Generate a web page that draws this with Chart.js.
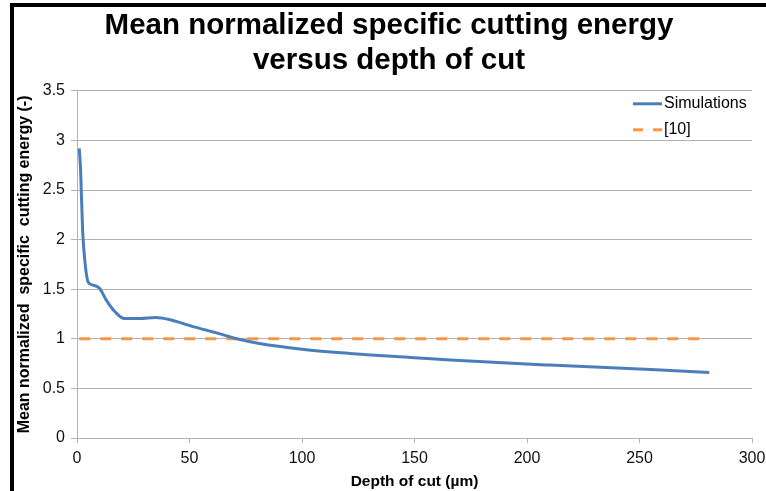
<!DOCTYPE html>
<html>
<head>
<meta charset="utf-8">
<script src="https://cdn.jsdelivr.net/npm/chart.js@4.4.0/dist/chart.umd.min.js"></script>
<style>
  html, body { margin: 0; padding: 0; background: #fff; }
  #wrap { position: relative; width: 766px; height: 491px; }
  #frame { position: absolute; left: 10px; top: 3px; right: 0; bottom: -10px;
           border-left: 4px solid #000; border-top: 4px solid #000; pointer-events: none; }
</style>
</head>
<body>
<div id="wrap">
  <canvas id="myChart" width="766" height="491"></canvas>
  <div id="frame"></div>
</div>
<script>
// depth of cut (µm) and mean normalized specific cutting energy
var simDepth  = [1, 1.6, 2.5, 3.6, 5, 7.3, 10, 13, 17, 21, 28, 35, 41, 52, 62, 71, 81, 100, 121, 150, 166, 210, 255, 281];
var simEnergy = [2.92, 2.70, 2.09, 1.76, 1.57, 1.54, 1.51, 1.39, 1.27, 1.205, 1.205, 1.215, 1.195, 1.12, 1.06, 1.0, 0.953, 0.895, 0.853, 0.81, 0.786, 0.735, 0.69, 0.66];

var refDepth  = [1, 278];
var refEnergy = [1, 1];

var xTicks = [0, 50, 100, 150, 200, 250, 300];

var FONT = 'Liberation Sans, Arial, sans-serif';
var BLUE = '#4a7ebb';
var ORANGE = '#f79646';

function pts(xs, ys) {
    return xs.map(function (x, i) { return {x: x, y: ys[i]}; });
}

// legend drawn inside the plot, top right, like the Excel original
var insideLegend = {
    id: 'insideLegend',
    afterDraw: function (chart) {
        var c = chart.ctx;
        var a = chart.chartArea;
        var x0 = a.right - 119, y0 = a.top + 13;
        c.save();
        c.lineWidth = 3;
        c.strokeStyle = BLUE;
        c.beginPath(); c.moveTo(x0, y0); c.lineTo(x0 + 29, y0); c.stroke();
        c.strokeStyle = ORANGE;
        c.setLineDash([10, 10]);
        c.beginPath(); c.moveTo(x0, y0 + 26); c.lineTo(x0 + 29, y0 + 26); c.stroke();
        c.setLineDash([]);
        c.fillStyle = '#000';
        c.font = '16px ' + FONT;
        c.textBaseline = 'middle';
        c.fillText('Simulations', x0 + 31, y0);
        c.fillText('[10]', x0 + 31, y0 + 26);
        c.restore();
    }
};

var ctx = document.getElementById('myChart').getContext('2d');
var chart = new Chart(ctx, {
    type: 'line',
    data: {
        datasets: [{
            label: 'Simulations',
            data: pts(simDepth, simEnergy),
            borderColor: BLUE,
            borderWidth: 3,
            pointRadius: 0,
            cubicInterpolationMode: 'monotone',
            fill: false
        }, {
            label: '[10]',
            data: pts(refDepth, refEnergy),
            borderColor: ORANGE,
            borderWidth: 3,
            borderDash: [11, 10],
            pointRadius: 0,
            fill: false
        }]
    },
    options: {
        responsive: false,
        animation: false,
        layout: { padding: { left: 12, right: 0, top: 0, bottom: 0 } },
        plugins: {
            legend: { display: false },
            tooltip: { enabled: false },
            title: {
                display: true,
                text: ['Mean normalized specific cutting energy', 'versus depth of cut'],
                color: '#000',
                font: { family: FONT, size: 29.5, weight: 'bold', lineHeight: 1.2 },
                padding: { top: 8, bottom: 12 }
            }
        },
        scales: {
            x: {
                type: 'linear',
                min: 0, max: 300,
                afterBuildTicks: function (s) { s.ticks = xTicks.map(function (v) { return {value: v}; }); },
                afterFit: function (s) { s.height = 53; s.paddingRight = 14; },
                grid: { drawOnChartArea: false, drawTicks: true, tickLength: 5, color: '#b3b3b3' },
                border: { color: '#b3b3b3' },
                ticks: { color: '#111', font: { family: FONT, size: 16 }, padding: 6, maxRotation: 0 },
                title: {
                    display: true, text: 'Depth of cut (µm)', color: '#000',
                    font: { family: FONT, size: 15.5, weight: 'bold' }, padding: { top: 0, bottom: 0 }
                }
            },
            y: {
                min: 0, max: 3.5,
                ticks: {
                    stepSize: 0.5, color: '#111', font: { family: FONT, size: 16 }, padding: 6,
                    callback: function (v) { return String(v); }
                },
                afterFit: function (s) { s.width = 65; },
                grid: { color: '#b3b3b3', tickLength: 6 },
                border: { color: '#b3b3b3' },
                title: {
                    display: true, text: 'Mean normalized  specific  cutting energy (-)', color: '#000',
                    font: { family: FONT, size: 16, weight: 'bold' }, padding: { top: 3, bottom: 0 }
                }
            }
        }
    },
    plugins: [insideLegend]
});
</script>
</body>
</html>
